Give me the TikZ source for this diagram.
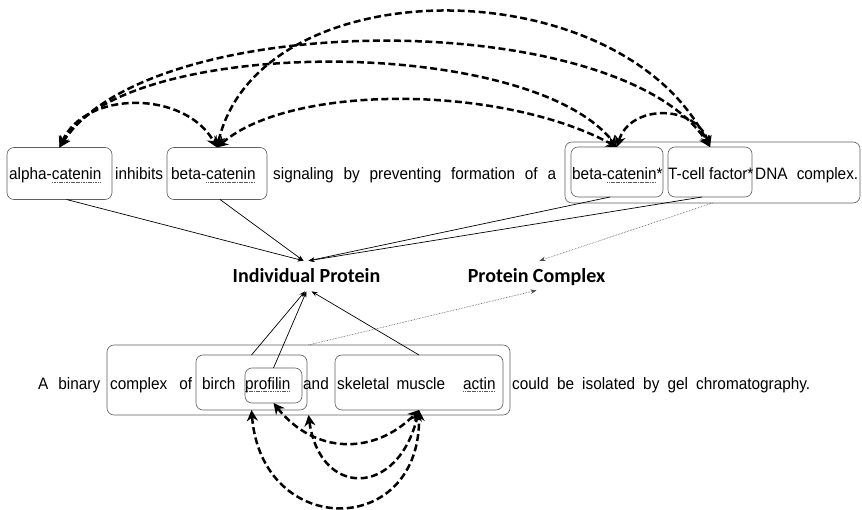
\documentclass[tikz,border=0pt]{standalone}
\usepackage{fontspec}
\setmainfont{Liberation Sans}[FakeStretch=0.93]
\newfontfamily\labelfont{Carlito}
\usetikzlibrary{arrows.meta}
\newsavebox\spellbox
\newcommand\spellmark[1]{\sbox\spellbox{#1}\rlap{\color{gray!70!black}\hbox to \wd\spellbox{\xleaders\hbox{\rule[-2.6pt]{1.2pt}{0.8pt}\kern0.5pt}\hfill}}\usebox\spellbox}

\begin{document}
\begin{tikzpicture}[x=1pt, y=-1pt, >=Stealth,
    wbox/.style={draw=gray!75!black, line width=0.6pt, rounded corners=7pt, inner sep=0pt, outer sep=0pt},
    sent/.style={anchor=base west, inner sep=0pt, font=\fontsize{16.5}{20}\selectfont},
    cat/.style={anchor=base, inner xsep=0pt, inner ysep=8pt, font=\labelfont\bfseries\fontsize{20}{24}\selectfont},
    rel/.style={line width=2.5pt, dash pattern=on 7pt off 3.5pt,
        {Stealth[length=11pt,width=11pt]}-{Stealth[length=11pt,width=11pt]}},
    link/.style={line width=0.7pt, -{Stealth[length=6pt,width=4.5pt]}},
    clink/.style={draw=gray!60!black, line width=0.6pt, densely dotted, -{Stealth[length=6pt,width=4.5pt]}}]
    \useasboundingbox[fill=white] (0,0) rectangle (862,510);

    \foreach \n/\x/\y/\w/\h in {alpha/59.5/173.5/105/52, betaA/217/173.5/100/52,
        cplx/712.5/172.5/295/61, betaB/617/172/92/50, tcf/710/172/84/50,
        lcplx/308.5/380/403/70, birch/251.5/382.5/111/55, prof/273.5/385.5/57/35,
        actin/419/382.5/168/55}
        \node[wbox, minimum width=\w, minimum height=\h] (\n) at (\x,\y) {};

    \node[sent] (s1) at (9,180) {alpha-\spellmark{catenin}};
    \node[sent] (s2) at (115,180) {inhibits};
    \node[sent] (s3) at (171,180) {beta-\spellmark{catenin}};
    \node[sent] (s4) at (273,180) {\makebox[283pt][s]{signaling by preventing formation of a}};
    \node[sent] (s5) at (572,180) {beta-\spellmark{catenin}*};
    \node[sent] (s6) at (668,180) {T-cell factor*};
    \node[sent] (s7) at (755,180) {\makebox[103pt][s]{DNA complex.}};

    \node[sent] (l1) at (38,389) {\makebox[62pt][s]{A binary}};
    \node[sent] (l2) at (110,389) {\makebox[82pt][s]{complex of}};
    \node[sent] (l3) at (202,389) {birch};
    \node[sent] (l4) at (245,389) {\spellmark{profilin}};
    \node[sent] (l5) at (303,389) {and};
    \node[sent] (l6) at (337,389) {\makebox[108pt][s]{skeletal muscle}};
    \node[sent] (l7) at (463,389) {\spellmark{actin}};
    \node[sent] (l8) at (512,389) {\makebox[298pt][s]{could be isolated by gel chromatography.}};

    \node[cat] (indiv) at (306.5,283) {Individual Protein};
    \node[cat] (pcplx) at (536.5,283) {Protein Complex};

    \draw[link] ([xshift=7pt]alpha.south) -- ([xshift=-3pt]indiv.north);
    \draw[link] ([xshift=3pt]betaA.south) -- ([xshift=-3pt]indiv.north);
    \draw[link] ([xshift=-7pt]betaB.south) -- ([xshift=2pt]indiv.north);
    \draw[link] ([xshift=-8pt]tcf.south) -- ([xshift=2pt]indiv.north);
    \draw[clink] (cplx.south) -- ([xshift=3pt]pcplx.north);
    \draw[link] (birch.north) -- ([xshift=-1.5pt]indiv.south);
    \draw[link] (prof.north) -- (indiv.south);
    \draw[link] (actin.north) -- ([xshift=5pt]indiv.south);
    \draw[clink] (lcplx.north) -- ([yshift=4pt]pcplx.south);

    \foreach \a/\b/\xa/\ya/\xb/\yb in {betaA/tcf/260/-33/620/-33, alpha/tcf/150/7/620/7,
        alpha/betaB/124/35/530/35, alpha/betaA/85/90/185/90,
        betaA/betaB/290/84/500/84, betaB/tcf/630/104/695/104}
        \draw[rel] (\a.north) .. controls (\xa,\ya) and (\xb,\yb) .. (\b.north);

    \foreach \a/\b/\xa/\ya/\xb/\yb in {prof/actin/315/455/375/455,
        lcplx/actin/320/498/398/498, birch/actin/262/539/421/539}
        \draw[rel] (\a.south) .. controls (\xa,\ya) and (\xb,\yb) .. (\b.south);
\end{tikzpicture}
\end{document}
